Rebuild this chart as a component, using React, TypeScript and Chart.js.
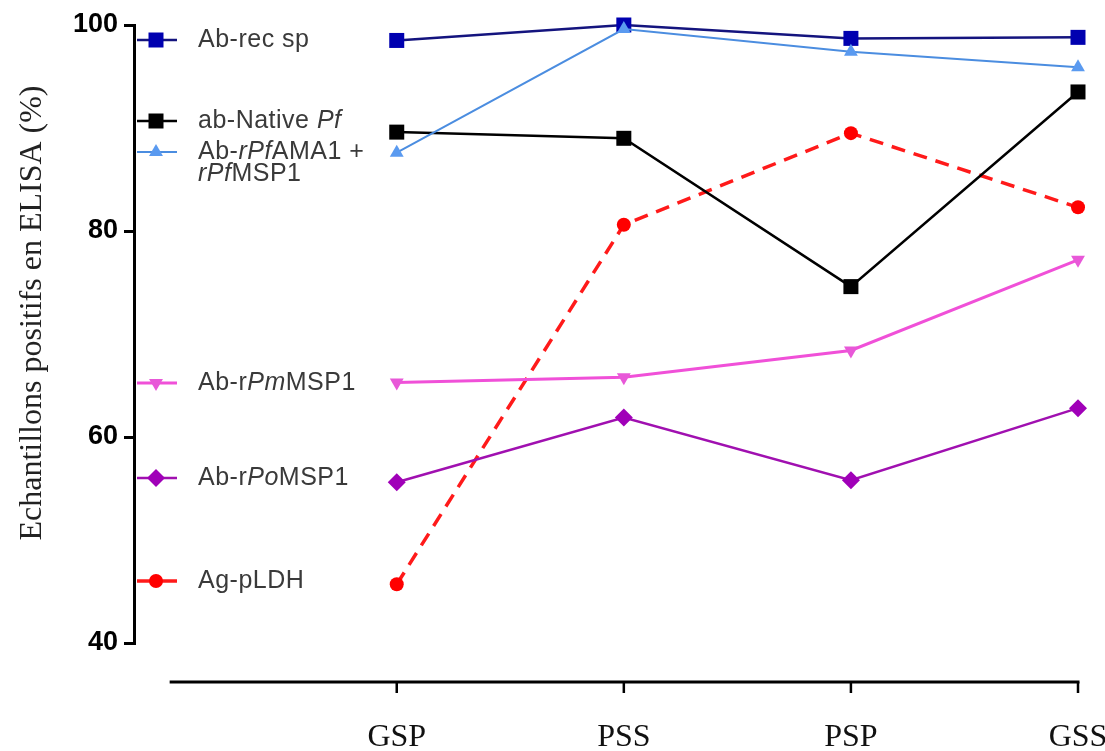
import React, { useEffect, useRef } from 'react';
import { Chart, registerables } from 'chart.js';

Chart.register(...registerables);

// ---------- data ----------
const categories = ['GSP', 'PSS', 'PSP', 'GSS'];
const abRecSp = [98.5, 100.0, 98.7, 98.8];
const abNativePf = [89.6, 89.0, 74.6, 93.5];
const abAma1Msp1 = [87.6, 99.6, 97.4, 95.9];
const abPmMsp1 = [65.3, 65.8, 68.4, 77.2];
const abPoMsp1 = [55.6, 61.9, 55.8, 62.8];
const agPldh = [45.7, 80.6, 89.5, 82.3];
const yTicks = [40, 60, 80, 100];
const yTitle = 'Echantillons positifs en ELISA (%)';

type Seg = { t: string; i?: boolean };

const toPoints = (vals: number[]) => vals.map((v, i) => ({ x: i, y: v }));

// legend entries (text segments, italic flags)
const legendEntries: { key: string; lines: Seg[][] }[] = [
  { key: 'rec', lines: [[{ t: 'Ab-rec sp' }]] },
  { key: 'native', lines: [[{ t: 'ab-Native ' }, { t: 'Pf', i: true }]] },
  {
    key: 'ama',
    lines: [
      [{ t: 'Ab-' }, { t: 'rPf', i: true }, { t: 'AMA1 +' }],
      [{ t: 'rPf', i: true }, { t: 'MSP1' }],
    ],
  },
  { key: 'pm', lines: [[{ t: 'Ab-r' }, { t: 'Pm', i: true }, { t: 'MSP1' }]] },
  { key: 'po', lines: [[{ t: 'Ab-r' }, { t: 'Po', i: true }, { t: 'MSP1' }]] },
  { key: 'ldh', lines: [[{ t: 'Ag-pLDH' }]] },
];

const STYLE: Record<string, any> = {
  rec: { line: '#14147e', fill: '#0000b0', shape: 'rect', r: 7.5, w: 2.5, dash: [] },
  native: { line: '#000000', fill: '#000000', shape: 'rect', r: 7.5, w: 2.5, dash: [] },
  ama: { line: '#4b8de0', fill: '#5a9af0', shape: 'triangle', r: 8, w: 2, dash: [] },
  pm: { line: '#f050d8', fill: '#e858d8', shape: 'triangleDown', r: 8, w: 3, dash: [] },
  po: { line: '#a010b0', fill: '#a000b8', shape: 'diamond', r: 9, w: 2.5, dash: [] },
  ldh: { line: '#ff1a1a', fill: '#ff0000', shape: 'circle', r: 7, w: 3.5, dash: [14, 9] },
};

// legend row placement (pixel rows in the plot's left margin)
const LEGEND_ROWS: Record<string, number> = { rec: 40, native: 121, ama: 152, pm: 383, po: 478, ldh: 581 };

function drawMarker(ctx: CanvasRenderingContext2D, shape: string, x: number, y: number, r: number, color: string) {
  ctx.save();
  ctx.fillStyle = color;
  ctx.beginPath();
  if (shape === 'rect') {
    ctx.rect(x - r, y - r, 2 * r, 2 * r);
  } else if (shape === 'circle') {
    ctx.arc(x, y, r, 0, Math.PI * 2);
  } else if (shape === 'triangle') {
    ctx.moveTo(x, y - r);
    ctx.lineTo(x + r * 0.87, y + r * 0.5);
    ctx.lineTo(x - r * 0.87, y + r * 0.5);
    ctx.closePath();
  } else if (shape === 'triangleDown') {
    ctx.moveTo(x, y + r);
    ctx.lineTo(x + r * 0.87, y - r * 0.5);
    ctx.lineTo(x - r * 0.87, y - r * 0.5);
    ctx.closePath();
  } else if (shape === 'diamond') {
    ctx.moveTo(x, y - r);
    ctx.lineTo(x + r, y);
    ctx.lineTo(x, y + r);
    ctx.lineTo(x - r, y);
    ctx.closePath();
  }
  ctx.fill();
  ctx.restore();
}

const pointStyleOf = (shape: string) =>
  shape === 'rect' ? 'rect' : shape === 'circle' ? 'circle' : shape === 'diamond' ? 'rectRot' : 'triangle';

// Chart.js radius for a given visual half-size
const chartRadius = (shape: string, r: number) => (shape === 'rect' ? r * Math.SQRT2 : r);

const makeDataset = (label: string, key: string, vals: number[], order: number) => {
  const s = STYLE[key];
  return {
    label,
    data: toPoints(vals),
    borderColor: s.line,
    backgroundColor: s.fill,
    borderWidth: s.w,
    borderDash: s.dash,
    pointStyle: pointStyleOf(s.shape),
    pointRotation: s.shape === 'triangleDown' ? 180 : 0,
    pointRadius: chartRadius(s.shape, s.r),
    pointBorderWidth: 0,
    pointBorderColor: s.fill,
    pointBackgroundColor: s.fill,
    tension: 0,
    clip: false,
    order,
  };
};

const SERIF = '"Liberation Serif", "Times New Roman", serif';
const SANS = '"Liberation Sans", Arial, sans-serif';

const overlayPlugin = {
  id: 'overlay',
  afterDraw(chart: any) {
    const ctx: CanvasRenderingContext2D = chart.ctx;
    const xs = chart.scales.x;
    const area = chart.chartArea;

    // detached x axis line
    const yLine = area.bottom + 39;
    ctx.save();
    ctx.strokeStyle = '#000';
    ctx.lineWidth = 3;
    ctx.beginPath();
    ctx.moveTo(xs.getPixelForValue(-1), yLine);
    ctx.lineTo(xs.getPixelForValue(categories.length - 1) + 1.5, yLine);
    ctx.stroke();
    ctx.lineWidth = 2.5;
    categories.forEach((_, i) => {
      const px = xs.getPixelForValue(i);
      ctx.beginPath();
      ctx.moveTo(px, yLine);
      ctx.lineTo(px, yLine + 11);
      ctx.stroke();
    });
    ctx.restore();

    // y title
    ctx.save();
    ctx.translate(33, 313);
    ctx.rotate(-Math.PI / 2);
    ctx.font = `32px ${SERIF}`;
    ctx.fillStyle = '#222';
    ctx.textAlign = 'center';
    ctx.textBaseline = 'middle';
    ctx.fillText(yTitle, 0, 0);
    ctx.restore();

    // inline legend
    const lx0 = area.left + 3;
    const lx1 = area.left + 43;
    const mx = area.left + 22;
    const tx = area.left + 64;
    legendEntries.forEach((e) => {
      const s = STYLE[e.key];
      const y = LEGEND_ROWS[e.key];
      ctx.save();
      ctx.strokeStyle = s.line;
      ctx.lineWidth = s.w;
      ctx.beginPath();
      ctx.moveTo(lx0, y);
      ctx.lineTo(lx1, y);
      ctx.stroke();
      ctx.restore();
      drawMarker(ctx, s.shape, mx, y, s.r, s.fill);
      e.lines.forEach((segs, li) => {
        let x = tx;
        const yy = y + li * 22;
        ctx.save();
        ctx.fillStyle = '#3a3a3a';
        ctx.textBaseline = 'middle';
        ctx.textAlign = 'left';
        (ctx as any).letterSpacing = '0.5px';
        segs.forEach((sg) => {
          ctx.font = `${sg.i ? 'italic ' : ''}25px ${SANS}`;
          ctx.fillText(sg.t, x, yy);
          x += ctx.measureText(sg.t).width;
        });
        ctx.restore();
      });
    });
  },
};

export default function App() {
  const ref = useRef<HTMLCanvasElement | null>(null);

  useEffect(() => {
    if (!ref.current) return;
    const chart = new Chart(ref.current, {
      type: 'line',
      data: {
        datasets: [
          makeDataset('Ab-rec sp', 'rec', abRecSp, 2),
          makeDataset('ab-Native Pf', 'native', abNativePf, 3),
          makeDataset('Ab-rPfAMA1 + rPfMSP1', 'ama', abAma1Msp1, 1),
          makeDataset('Ab-rPmMSP1', 'pm', abPmMsp1, 4),
          makeDataset('Ab-rPoMSP1', 'po', abPoMsp1, 5),
          makeDataset('Ag-pLDH', 'ldh', agPldh, 6),
        ],
      },
      options: {
        animation: false,
        responsive: false,
        clip: false,
        layout: { padding: { top: 25, right: 27, left: 0, bottom: 0 } },
        plugins: { legend: { display: false }, tooltip: { enabled: false }, title: { display: false } },
        scales: {
          x: {
            type: 'linear',
            min: -1.157,
            max: 3,
            afterBuildTicks: (s: any) => {
              s.ticks = categories.map((_, i) => ({ value: i }));
            },
            afterFit: (s: any) => {
              s.height = 108;
              s.paddingLeft = 0;
              s.paddingRight = 0;
            },
            grid: { display: false },
            border: { display: false },
            ticks: {
              autoSkip: false,
              maxRotation: 0,
              padding: 67,
              color: '#111',
              font: { family: SERIF, size: 32 },
              callback: (v: any) => categories[v] ?? '',
            },
          },
          y: {
            min: 40,
            max: 100,
            afterBuildTicks: (s: any) => {
              s.ticks = yTicks.map((v) => ({ value: v }));
            },
            afterFit: (s: any) => {
              s.width = 134;
              s.paddingTop = 0;
              s.paddingBottom = 0;
            },
            grid: { drawOnChartArea: false, drawTicks: true, tickLength: 10, color: '#000', lineWidth: 3 },
            border: { color: '#000', width: 3 },
            ticks: { padding: 6, color: '#000', font: { family: SANS, size: 27, weight: 'bold' } },
          },
        },
      },
      plugins: [overlayPlugin],
    } as any);
    return () => chart.destroy();
  }, []);

  return (
    <div style={{ position: 'absolute', left: 0, top: 0, width: 1105, height: 751, background: '#fff' }}>
      <canvas ref={ref} width={1105} height={751} style={{ width: 1105, height: 751, display: 'block' }} />
    </div>
  );
}
